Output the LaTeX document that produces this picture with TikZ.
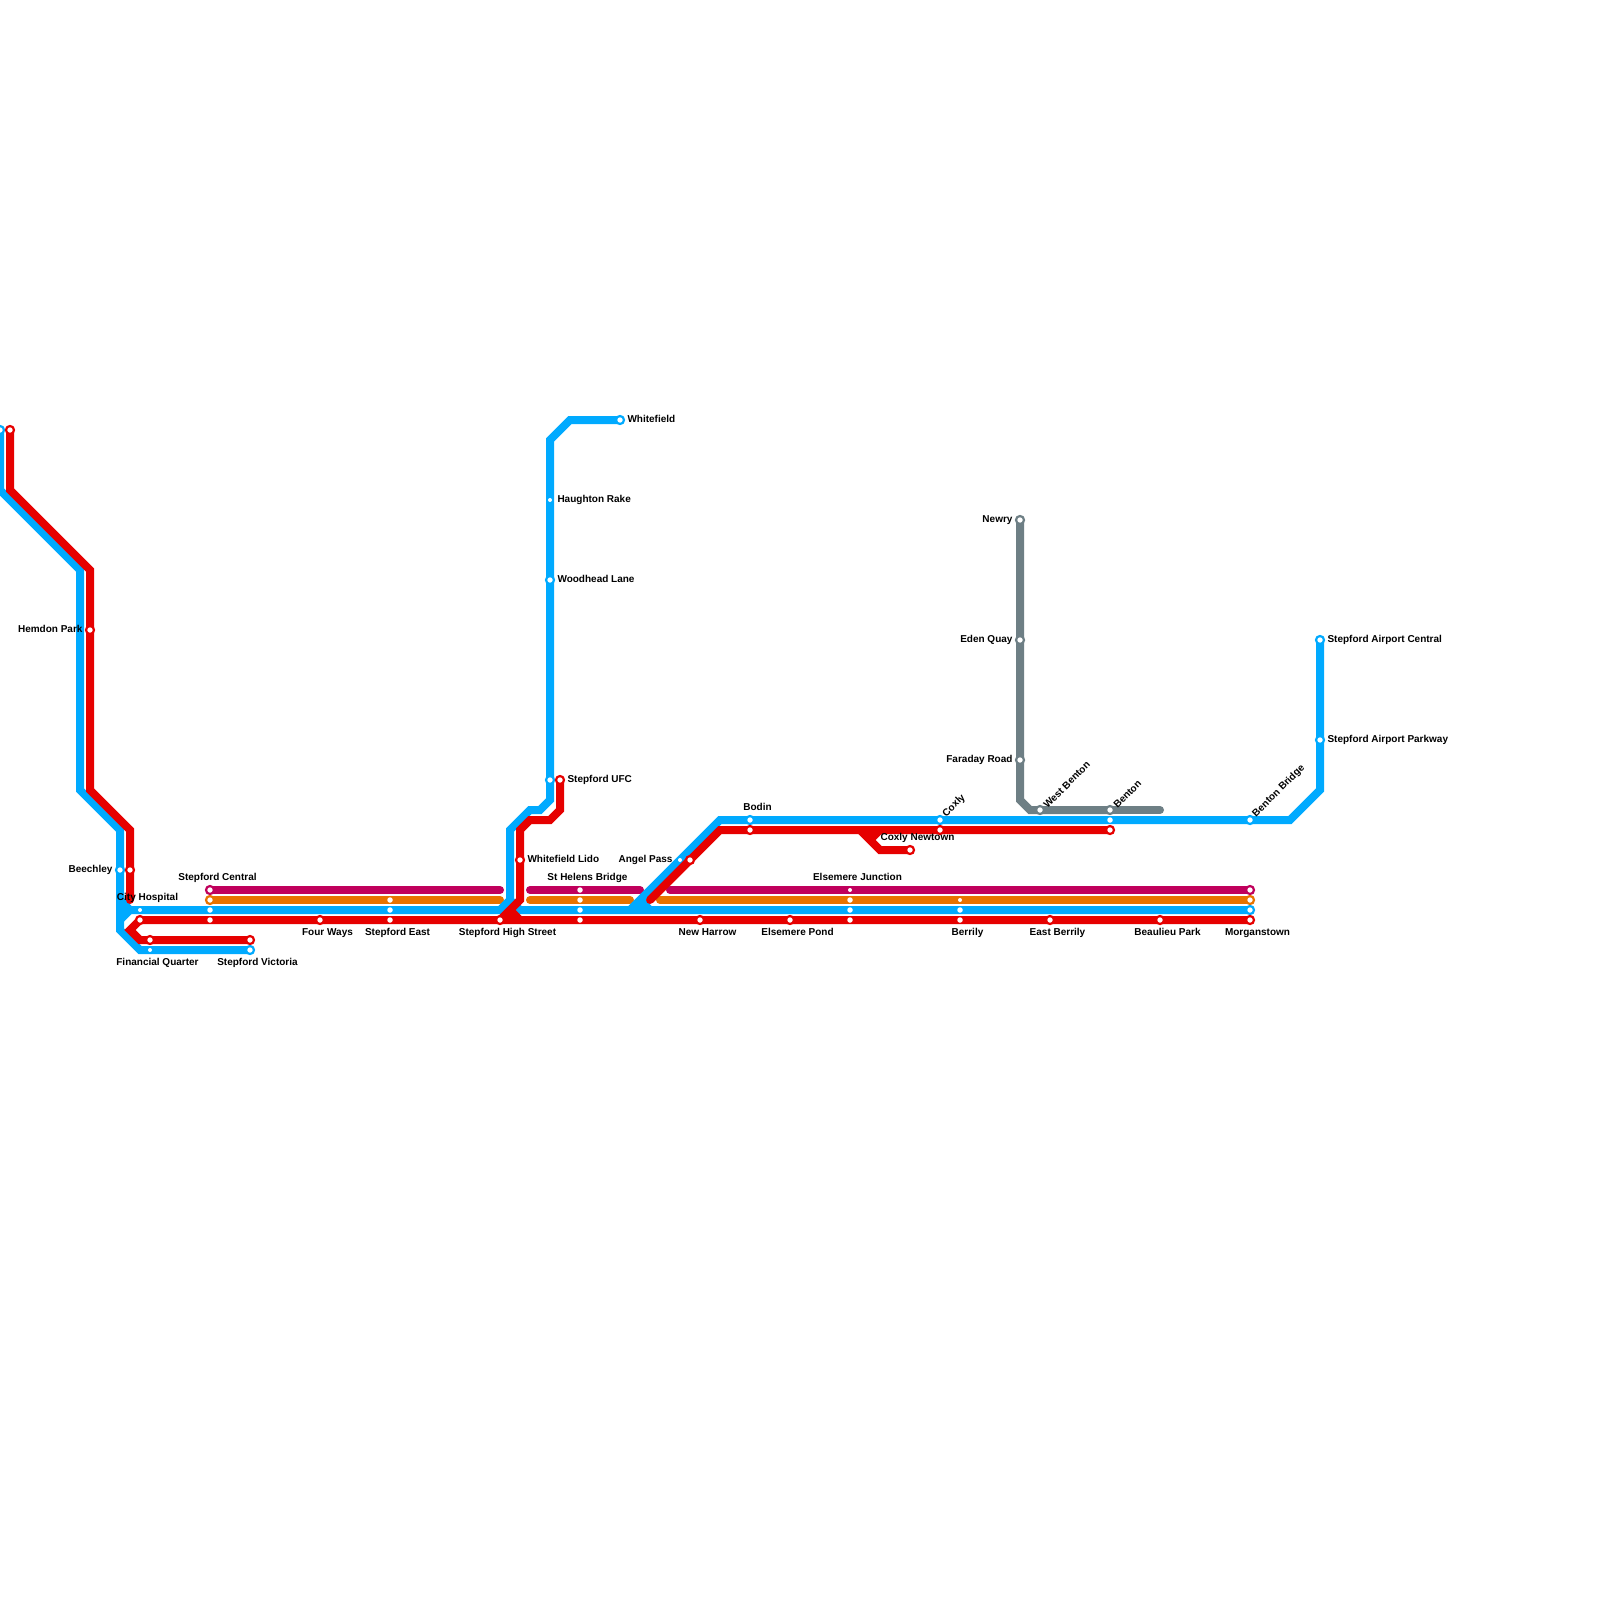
\documentclass[tikz,border=0pt]{standalone}
\usepackage{fontspec}
\setmainfont{Liberation Sans}
\pgfdeclarelayer{lines}
\pgfsetlayers{lines,main}
\definecolor{lblue}{HTML}{00AAFF}
\definecolor{lred}{HTML}{E60000}
\definecolor{lmag}{HTML}{C0005C}
\definecolor{lora}{HTML}{E87300}
\definecolor{lgrey}{HTML}{6E7F85}
\tikzset{
  route/.style={line width=8pt,line join=miter,miter limit=4,line cap=butt},
  roundroute/.style={route,line cap=round},
  ring/.style={circle,draw=#1,fill=white,line width=2.2pt,minimum size=8pt,inner sep=0pt,outer sep=0pt},
  dot/.style={circle,fill=white,minimum size=4pt,inner sep=0pt,outer sep=0pt},
  txt/.style={font=\fontsize{10}{12}\selectfont\bfseries,text=black,inner sep=0pt,outer sep=0pt},
  labE/.style={txt,anchor=base west,xshift=7.5pt,yshift=-2.5pt},
  labW/.style={txt,anchor=base east,xshift=-7.5pt,yshift=-2.5pt},
  labN/.style={txt,anchor=base,xshift=7.5pt,yshift=10pt},
  labS/.style={txt,anchor=base,xshift=7.5pt,yshift=-15pt},
  labR/.style={txt,anchor=south west,rotate=45,xshift=6.3pt,yshift=-4.6pt},
}
\begin{document}
\begin{tikzpicture}[x=1pt,y=-1pt]
\useasboundingbox (0,0) rectangle (1600,1600);
\clip (0,0) rectangle (1600,1600);
% ---- stations
\node[ring=lblue] (bTop) at (0,430) {};
\node[ring=lred] (rTop) at (10,430) {};
\node[ring=lred] (hemdon) at (90,630) {};
\node[ring=lblue] (beechB) at (120,870) {};
\node[ring=lred] (beechR) at (130,870) {};
\node[dot] (cityB) at (140,910) {};
\node[ring=lred] (cityR) at (140,920) {};
\node[ring=lred] (finR) at (150,940) {};
\node[dot] (finB) at (150,950) {};
\node[ring=lred] (vicR) at (250,940) {};
\node[ring=lblue] (vicB) at (250,950) {};
\node[ring=lmag] (cenM) at (210,890) {};
\node[ring=lora] (cenO) at (210,900) {};
\node[dot,minimum size=5.5pt] (cenB) at (210,910) {};
\node[dot,minimum size=5.5pt] (cenR) at (210,920) {};
\node[ring=lred] (four) at (320,920) {};
\node[dot,minimum size=5.5pt] (eastO) at (390,900) {};
\node[dot,minimum size=5.5pt] (eastB) at (390,910) {};
\node[dot,minimum size=5.5pt] (eastR) at (390,920) {};
\node[ring=lred] (high) at (500,920) {};
\node[ring=lred] (lido) at (520,860) {};
\node[dot] (hrake) at (550,500) {};
\node[ring=lblue] (wood) at (550,580) {};
\node[ring=lblue] (ufcB) at (550,780) {};
\node[ring=lred] (ufcR) at (560,780) {};
\node[ring=lblue] (wfield) at (620,420) {};
\node[dot,minimum size=5.5pt] (helM) at (580,890) {};
\node[dot,minimum size=5.5pt] (helO) at (580,900) {};
\node[dot,minimum size=5.5pt] (helB) at (580,910) {};
\node[dot,minimum size=5.5pt] (helR) at (580,920) {};
\node[dot] (angB) at (680,860) {};
\node[ring=lred] (angR) at (690,860) {};
\node[ring=lred] (harrow) at (700,920) {};
\node[ring=lblue] (bodB) at (750,820) {};
\node[ring=lred] (bodR) at (750,830) {};
\node[ring=lred] (pond) at (790,920) {};
\node[dot] (junM) at (850,890) {};
\node[dot,minimum size=5.5pt] (junO) at (850,900) {};
\node[dot,minimum size=5.5pt] (junB) at (850,910) {};
\node[dot,minimum size=5.5pt] (junR) at (850,920) {};
\node[ring=lred] (newtown) at (910,850) {};
\node[ring=lblue] (coxB) at (940,820) {};
\node[ring=lred] (coxR) at (940,830) {};
\node[dot] (berO) at (960,900) {};
\node[dot,minimum size=5.5pt] (berB) at (960,910) {};
\node[dot,minimum size=5.5pt] (berR) at (960,920) {};
\node[ring=lgrey] (newry) at (1020,520) {};
\node[ring=lgrey] (eden) at (1020,640) {};
\node[ring=lgrey] (faraday) at (1020,760) {};
\node[ring=lgrey] (wbenton) at (1040,810) {};
\node[ring=lred] (eberrily) at (1050,920) {};
\node[ring=lgrey] (bentG) at (1110,810) {};
\node[dot,minimum size=5.5pt] (bentB) at (1110,820) {};
\node[ring=lred] (bentR) at (1110,830) {};
\node[ring=lred] (beaulieu) at (1160,920) {};
\node[ring=lmag] (morM) at (1250,890) {};
\node[ring=lora] (morO) at (1250,900) {};
\node[ring=lblue] (morB) at (1250,910) {};
\node[ring=lred] (morR) at (1250,920) {};
\node[ring=lblue] (bbridge) at (1250,820) {};
\node[ring=lblue] (parkway) at (1320,740) {};
\node[ring=lblue] (central) at (1320,640) {};
% ---- bends
\foreach \n/\x/\y in {
 a1/0/490,a2/80/570,a3/80/790,a4/120/830,a5/120/930,a6/140/950,
 a7/120/900,a8/130/910,a9/120/920,
 b1/500/910,b2/510/900,b3/510/830,b4/530/810,b5/540/810,b6/550/800,b7/550/440,b8/570/420,b9/520/910,
 c1/630/910,c2/720/820,c3/1290/820,c4/1320/790,c5/640/900,c6/650/910,
 d1/10/490,d2/90/570,d3/90/790,d4/130/830,d5/130/900,d6/130/930,d7/140/940,
 e1/520/900,e2/520/830,e3/530/820,e4/550/820,e5/560/810,e6/510/910,e7/520/920,
 f1/650/900,f2/720/830,f3/860/830,f4/880/850,f5/880/830,f6/870/840,
 g1/1020/800,g2/1030/810,g3/1160/810,
 m1/500/890,m2/530/890,m3/640/890,m4/670/890,
 o1/500/900,o2/530/900,o3/630/900,o4/660/900}
 {\coordinate (\n) at (\x,\y);}
\begin{pgfonlayer}{lines}
\fill[white] (0,0) rectangle (1600,1600);
% magenta and orange
\draw[roundroute,lmag] (cenM.center) -- (m1);
\draw[roundroute,lmag] (m2) -- (m3);
\draw[roundroute,lmag] (m4) -- (morM.center);
\draw[roundroute,lora] (cenO.center) -- (o1);
\draw[roundroute,lora] (o2) -- (o3);
\draw[roundroute,lora] (o4) -- (morO.center);
% grey
\draw[route,lgrey] (newry.center) -- (g1) -- (g2) -- (wbenton.center) -- (bentG.center);
\draw[roundroute,lgrey] (bentG.center) -- (g3);
% blue
\draw[route,lblue] (bTop.center) -- (a1) -- (a2) -- (a3) -- (a4) -- (a5) -- (a6) -- (vicB.center);
\draw[route,lblue] (a7) -- (a8) -- (b1) -- (b2) -- (b3) -- (b4) -- (b5) -- (b6) -- (b7) -- (b8) -- (wfield.center);
\draw[route,lblue] (a9) -- (a8);
\draw[route,lblue] (b2) -- (b9) -- (morB.center);
\draw[route,lblue] (c1) -- (c2) -- (c3) -- (c4) -- (central.center);
\draw[route,lblue] (c5) -- (c6);
% red
\draw[roundroute,lred] (d5) -- (d4);
\draw[route,lred] (rTop.center) -- (d1) -- (d2) -- (d3) -- (d4) -- (d5);
\draw[route,lred] (morR.center) -- (cityR.center) -- (d6) -- (d7) -- (vicR.center);
\draw[route,lred] (high.center) -- (e1) -- (e2) -- (e3) -- (e4) -- (e5) -- (ufcR.center);
\draw[route,lred] (e6) -- (e7);
\draw[route,lred] (bentR.center) -- (f2) -- (f1);
\draw[roundroute,lred] (f1) -- (angR.center);
\draw[route,lred] (f3) -- (f4) -- (newtown.center);
\draw[route,lred] (f5) -- (f6);
\end{pgfonlayer}
% ---- labels
\node[labW] (t1) at (hemdon.center) {Hemdon Park};
\node[labW] (t2) at (beechB.center) {Beechley};
\node[labN] (t3) at (cityB.center) {City Hospital};
\node[labN] (t4) at (cenM.center) {Stepford Central};
\node[labS] (t5) at (finB.center) {Financial Quarter};
\node[labS] (t6) at (vicB.center) {Stepford Victoria};
\node[labS] (t7) at (four.center) {Four Ways};
\node[labS] (t8) at (eastR.center) {Stepford East};
\node[labS] (t9) at (high.center) {Stepford High Street};
\node[labE] (t10) at (lido.center) {Whitefield Lido};
\node[labE] (t11) at (ufcR.center) {Stepford UFC};
\node[labE] (t12) at (wood.center) {Woodhead Lane};
\node[labE] (t13) at (hrake.center) {Haughton Rake};
\node[labE] (t14) at (wfield.center) {Whitefield};
\node[labN] (t15) at (helM.center) {St Helens Bridge};
\node[labW] (t16) at (angB.center) {Angel Pass};
\node[labS] (t17) at (harrow.center) {New Harrow};
\node[labN] (t18) at (bodB.center) {Bodin};
\node[labS] (t19) at (pond.center) {Elsemere Pond};
\node[labN] (t20) at (junM.center) {Elsemere Junction};
\node[labN] (t21) at (newtown.center) {Coxly Newtown};
\node[labR] (t22) at (coxB.center) {Coxly};
\node[labS] (t23) at (berR.center) {Berrily};
\node[labW] (t24) at (newry.center) {Newry};
\node[labW] (t25) at (eden.center) {Eden Quay};
\node[labW] (t26) at (faraday.center) {Faraday Road};
\node[labR] (t27) at (wbenton.center) {West Benton};
\node[labS] (t28) at (eberrily.center) {East Berrily};
\node[labR] (t29) at (bentG.center) {Benton};
\node[labS] (t30) at (beaulieu.center) {Beaulieu Park};
\node[labS] (t31) at (morR.center) {Morganstown};
\node[labR] (t32) at (bbridge.center) {Benton Bridge};
\node[labE] (t33) at (parkway.center) {Stepford Airport Parkway};
\node[labE] (t34) at (central.center) {Stepford Airport Central};
\end{tikzpicture}
\end{document}
